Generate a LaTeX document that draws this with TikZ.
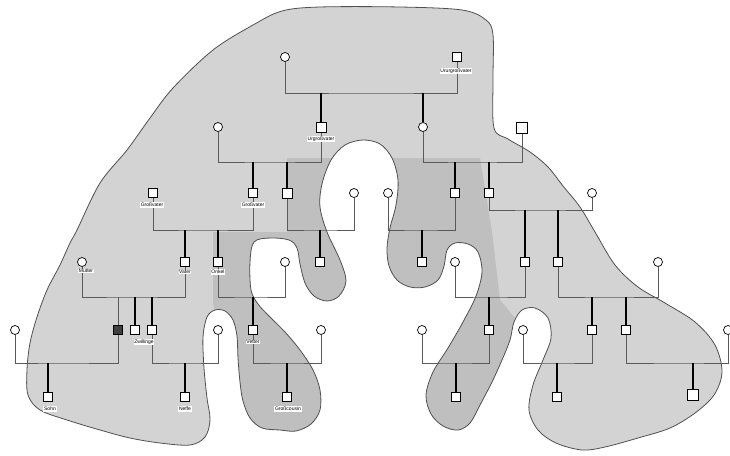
\documentclass[tikz,border=0pt]{standalone}
\usepackage{fontspec}
\setmainfont{Liberation Sans}
\usetikzlibrary{backgrounds}
\definecolor{blobLight}{HTML}{D3D3D3}
\definecolor{blobDark}{HTML}{BFBFBF}
\definecolor{blobEdge}{HTML}{505050}
\definecolor{lineGray}{HTML}{5A5A5A}
\tikzset{
  male/.style={
    rectangle, draw=black, fill=white, minimum size=9pt,
    inner sep=0pt, line width=0.8pt,
  },
  female/.style={
    circle, draw=black, fill=white, minimum size=9pt,
    inner sep=0pt, line width=0.7pt,
  },
  affected/.style={male, fill=black!75},
  tag/.style={fill=white, inner sep=0.7pt, font=\fontsize{5}{5.5}\selectfont},
  spouse/.style={draw=lineGray, line width=0.6pt},
  child/.style={draw=black, line width=1.1pt},
}
\newcommand{\blobshape}{plot[smooth cycle, tension=0.55] coordinates {
  (77,230) (100,183) (127,150) (150,118) (173,88) (213,50) (253,25) (282,11)
  (320,7) (400,7) (462,10) (486,20) (493,35) (493,80) (494,128) (508,139)
  (530,152) (548,167) (563,186) (580,207) (595,232) (615,265) (638,287)
  (665,303) (695,322) (715,345) (722,372) (714,395) (695,413) (670,428)
  (638,438) (605,447) (582,450) (556,443) (538,430) (529,410) (533,385)
  (543,360) (551,338) (548,318) (535,308) (522,310) (514,322) (510,340)
  (502,360) (492,382) (480,405) (470,423) (458,430) (443,426) (431,414)
  (426,395) (433,372) (448,348) (463,322) (476,296) (482,272) (478,252)
  (468,244) (455,243) (447,250) (444,266) (438,280) (425,287) (410,287)
  (397,280) (389,266) (387,248) (390,228) (396,205) (398,180) (392,158)
  (380,144) (363,140) (345,145) (331,160) (322,184) (320,207) (327,232)
  (340,260) (346,281) (339,296) (327,301) (314,296) (305,283) (300,264)
  (297,248) (289,240) (270,238) (254,242) (250,262) (251,290) (258,304)
  (270,317) (285,332) (300,350) (313,370) (320,390) (320,410) (311,424)
  (296,431) (280,430) (262,428) (250,418) (243,401) (240,382) (238,358)
  (237,336) (233,320) (225,311) (215,310) (207,317) (203,337) (204,368)
  (207,398) (210,420) (205,437) (190,445) (160,443) (130,438) (100,430)
  (67,420) (40,410) (28,395) (27,370) (30,343) (37,317) (47,290) (60,265)
  (70,243)}}

\begin{document}
\begin{tikzpicture}[x=1pt, y=-1pt]

  \useasboundingbox (0,0) rectangle (730,455);

  % shaded family area
  \begin{scope}[on background layer]
    \fill[blobLight] \blobshape;
    \begin{scope}
      \clip \blobshape;
      \fill[blobDark] (287,158) -- (480,158) -- (492,232) -- (500,300)
        -- (525,330) -- (525,450) -- (420,450) -- (410,300) -- (350,300)
        -- (335,450) -- (228,450) -- (213,300) -- (213,232) -- (287,232) -- cycle;
    \end{scope}
    \draw[blobEdge, line width=0.8pt] \blobshape;
  \end{scope}

  % generation 1
  \node[female] (gg1f) at (285,57) {};
  \node[male] (gg1m) at (457,57) {};
  \node[tag] (lbUrur) at (456,71) {Ururgroßvater};

  % generation 2
  \node[female] (g2f1) at (218,127) {};
  \node[male, minimum size=10pt] (g2m1) at (321,127) {};
  \node[tag] (lbUrgr) at (321,139) {Urgroßvater};
  \node[female] (g2f2) at (423,127) {};
  \node[male, minimum size=11pt] (g2m2) at (522,128) {};

  % generation 3
  \node[male] (g3m1) at (153,193) {};
  \node[tag] (lbGv1) at (152,205) {Großvater};
  \node[male] (g3m2) at (253,193) {};
  \node[tag] (lbGv2) at (253,205) {Großvater};
  \node[male, minimum size=10pt] (g3m3) at (287,193) {};
  \node[female] (g3f1) at (354,193) {};
  \node[female] (g3f2) at (388,193) {};
  \node[male] (g3m4) at (455,193) {};
  \node[male] (g3m5) at (489,193) {};
  \node[female] (g3f3) at (592,193) {};

  % generation 4
  \node[female] (mutter) at (82,262) {};
  \node[tag] (lbMutter) at (86,271) {Mutter};
  \node[male] (vater) at (185,262) {};
  \node[tag] (lbVater) at (185,272) {Vater};
  \node[male] (onkel) at (218,262) {};
  \node[tag] (lbOnkel) at (218,272) {Onkel};
  \node[female] (g4f1) at (285,262) {};
  \node[male] (g4m3) at (320,262) {};
  \node[male] (g4m4) at (422,262) {};
  \node[female] (g4f2) at (455,262) {};
  \node[male] (g4m5) at (525,262) {};
  \node[male] (g4m6) at (558,262) {};
  \node[female] (g4f3) at (658,262) {};

  % generation 5
  \node[female] (g5f1) at (15,330) {};
  \node[affected] (ich) at (118,330) {};
  \node[male] (zw1) at (135,330) {};
  \node[male] (zw2) at (152,330) {};
  \node[tag] (lbZw) at (144,342) {Zwillinge};
  \node[female] (g5f2) at (218,330) {};
  \node[male] (vetter) at (253,330) {};
  \node[tag] (lbVetter) at (253,342) {Vetter};
  \node[female] (g5f3) at (321,330) {};
  \node[female] (g5f4) at (422,330) {};
  \node[male] (g5m6) at (489,330) {};
  \node[female] (g5f5) at (523,330) {};
  \node[male] (g5m7) at (592,330) {};
  \node[male] (g5m8) at (626,330) {};
  \node[female] (g5f6) at (728,330) {};

  % generation 6
  \node[male] (sohn) at (48,397) {};
  \node[tag] (lbSohn) at (50,409) {Sohn};
  \node[male] (neffe) at (185,397) {};
  \node[tag] (lbNeffe) at (185,409) {Neffe};
  \node[male] (g6m3) at (287,397) {};
  \node[tag] (lbGc) at (288,409) {Großcousin};
  \node[male] (g6m4) at (456,397) {};
  \node[male] (g6m5) at (557,397) {};
  \node[male, minimum size=11pt, line width=1.2pt] (g6m6) at (693,395) {};

  % marriage lines
  \coordinate (u1) at (371,93);
  \coordinate (u2a) at (270,162);
  \coordinate (u2b) at (472,162);
  \coordinate (u3a) at (203,230);
  \coordinate (u3b) at (320,230);
  \coordinate (u3c) at (420,230);
  \coordinate (u3d) at (540,210);
  \coordinate (u4a) at (130,297);
  \coordinate (u4b) at (250,297);
  \coordinate (u4c) at (490,297);
  \coordinate (u4d) at (610,297);
  \coordinate (u5a) at (60,363);
  \coordinate (u5b) at (185,363);
  \coordinate (u5c) at (287,363);
  \coordinate (u5d) at (455,363);
  \coordinate (u5e) at (557,363);
  \coordinate (u5f) at (680,363);

  \begin{scope}[on background layer]
    \draw[spouse] (gg1f) |- (u1) -| (gg1m);
    \draw[spouse] (g2f1) |- (u2a) -| (g2m1);
    \draw[spouse] (g2f2) |- (u2b) -| (g2m2);
    \draw[spouse] (g3m1) |- (u3a) -| (g3m2);
    \draw[spouse] (g3m3) |- (u3b) -| (g3f1);
    \draw[spouse] (g3f2) |- (u3c) -| (g3m4);
    \draw[spouse] (g3m5) |- (u3d) -| (g3f3);
    \draw[spouse] (mutter) |- (u4a) -| (vater);
    \draw[spouse] (onkel) |- (u4b) -| (g4f1);
    \draw[spouse] (g4f2) |- (u4c) -| (g4m5);
    \draw[spouse] (g4m6) |- (u4d) -| (g4f3);
    \draw[spouse] (g5f1) |- (u5a) -| (ich);
    \draw[spouse] (zw2) |- (u5b) -| (g5f2);
    \draw[spouse] (vetter) |- (u5c) -| (g5f3);
    \draw[spouse] (g5f4) |- (u5d) -| (g5m6);
    \draw[spouse] (g5f5) |- (u5e) -| (g5m7);
    \draw[spouse] (g5m8) |- (u5f) -| (g5f6);

    % descent lines
    \draw[child] (u1 -| g2m1) -- (g2m1);
    \draw[child] (u1 -| g2f2) -- (g2f2);
    \draw[child] (u2a -| g3m2) -- (g3m2);
    \draw[child] (u2a -| g3m3) -- (g3m3);
    \draw[child] (u2b -| g3m4) -- (g3m4);
    \draw[child] (u2b -| g3m5) -- (g3m5);
    \draw[child] (u3a -| vater) -- (vater);
    \draw[child] (u3a -| onkel) -- (onkel);
    \draw[child] (u3b -| g4m3) -- (g4m3);
    \draw[child] (u3c -| g4m4) -- (g4m4);
    \draw[child] (u3d -| g4m5) -- (g4m5);
    \draw[child] (u3d -| g4m6) -- (g4m6);
    \draw[spouse] (u4a -| ich) -- (ich);
    \draw[child] (u4a -| zw1) -- (zw1);
    \draw[child] (u4a -| zw2) -- (zw2);
    \draw[child] (u4b -| vetter) -- (vetter);
    \draw[child] (u4c -| g5m6) -- (g5m6);
    \draw[child] (u4d -| g5m7) -- (g5m7);
    \draw[child] (u4d -| g5m8) -- (g5m8);
    \draw[child] (u5a -| sohn) -- (sohn);
    \draw[child] (u5b -| neffe) -- (neffe);
    \draw[child] (u5c -| g6m3) -- (g6m3);
    \draw[child] (u5d -| g6m4) -- (g6m4);
    \draw[child] (u5e -| g6m5) -- (g6m5);
    \draw[child] (u5f -| g6m6) -- (g6m6);
  \end{scope}

\end{tikzpicture}
\end{document}
